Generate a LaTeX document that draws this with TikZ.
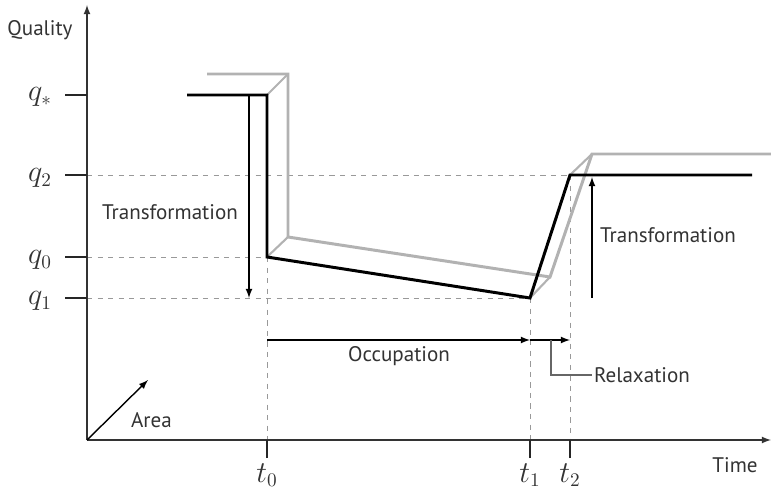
\documentclass[tikz,border=0pt]{standalone}
\usepackage{fontspec}
\setmainfont{PT Sans}
\usetikzlibrary{arrows}
\tikzstyle{arrow} = [line width=0.8pt,->,>=latex]

\begin{document}
\begin{tikzpicture}[
    x=0.02cm, y=-0.02cm,
    axis/.style={arrow,draw=black!80},
    curve/.style={line width=1.7pt,draw=black,line join=miter},
    shade/.style={line width=1.7pt,draw=black!30,line join=miter},
    guide/.style={dashed,draw=black!40,line width=0.4pt},
    tick/.style={line width=0.9pt,draw=black!85},
    lbl/.style={font=\fontsize{12}{14}\selectfont,text=black!80,inner sep=1pt},
    mlbl/.style={font=\fontsize{16}{18}\selectfont,text=black!80,inner sep=1pt},
  ]
  \useasboundingbox (0,0) rectangle (771,493);

  % points of the curves
  \coordinate (o)  at (87,440);
  \coordinate (a0) at (187,95);
  \coordinate (a1) at (267,95);
  \coordinate (a2) at (267,257);
  \coordinate (a3) at (530,298);
  \coordinate (a4) at (570,175);
  \coordinate (a5) at (752,175);
  \coordinate (b0) at (207,74);
  \coordinate (b1) at (288,74);
  \coordinate (b2) at (288,237);
  \coordinate (b3) at (550,277);
  \coordinate (b4) at (592,154);
  \coordinate (b5) at (771,154);

  % tick ends on the axes
  \coordinate (ys) at (65,95);  \coordinate (ya) at (87,95);
  \coordinate (y2) at (65,175); \coordinate (yb) at (87,175);
  \coordinate (y0) at (65,257); \coordinate (yc) at (87,257);
  \coordinate (y1) at (65,298); \coordinate (yd) at (87,298);
  \coordinate (x0) at (267,458); \coordinate (xa) at (267,440);
  \coordinate (x1) at (530,458); \coordinate (xb) at (530,440);
  \coordinate (x2) at (570,458); \coordinate (xc) at (570,440);

  % guides
  \draw[guide] (yb) -- (a4);
  \draw[guide] (yc) -- (a2);
  \draw[guide] (yd) -- (a3);
  \draw[guide] (a2) -- (xa);
  \draw[guide] (a3) -- (xb);
  \draw[guide] (a4) -- (xc);

  % axes
  \draw[axis] (o) -- (87,5);
  \draw[axis] (o) -- (771,440);
  \draw[arrow,draw=black] (o) -- (148,380);
  \foreach \p/\q in {ys/ya,y2/yb,y0/yc,y1/yd,x0/xa,x1/xb,x2/xc}
    \draw[tick] (\p) -- (\q);

  % shifted copy and its links
  \draw[shade] (b0) -- (b1) -- (b2) -- (b3) -- (b4) -- (b5);
  \foreach \p/\q in {a1/b1,a2/b2,a3/b3,a4/b4}
    \draw[shade,line width=1.2pt] (\p) -- (\q);

  % quality curve
  \draw[curve] (a0) -- (a1) -- (a2) -- (a3) -- (a4) -- (a5);

  % arrows
  \coordinate (tl0) at (249,95);
  \coordinate (tl1) at (249,298);
  \coordinate (tr0) at (592,298);
  \coordinate (tr1) at (592,177);
  \coordinate (oc0) at (267,340);
  \coordinate (oc1) at (530,340);
  \coordinate (oc2) at (570,340);
  \coordinate (rx0) at (551,340);
  \coordinate (rx1) at (551,375);
  \draw[arrow] (tl0) -- (tl1);
  \draw[arrow] (tr0) -- (tr1);
  \draw[arrow] (oc0) -- (oc1);
  \draw[arrow] (oc1) -- (oc2);

  % labels
  \node[lbl] (quality) at (40,30) {Quality};
  \node[lbl] (time) at (735,465) {Time};
  \node[lbl,anchor=west] (area) at (129,420) {Area};
  \node[lbl] (transl) at (170,212) {Transformation};
  \node[lbl] (transr) at (668,235) {Transformation};
  \node[lbl] (occup) at (399,356) {Occupation};
  \node[lbl,anchor=west] (relax) at (592,375) {Relaxation};
  \draw[line width=0.6pt,draw=black!60] (rx0) -- (rx1) -- (relax.west);

  \node[mlbl] (qs) at (40,97) {$q_*$};
  \node[mlbl] (q2) at (40,178) {$q_2$};
  \node[mlbl] (q0) at (40,260) {$q_0$};
  \node[mlbl] (q1) at (40,301) {$q_1$};
  \node[mlbl] (t0) at (267,475) {$t_0$};
  \node[mlbl] (t1) at (530,475) {$t_1$};
  \node[mlbl] (t2) at (570,475) {$t_2$};
\end{tikzpicture}
\end{document}
